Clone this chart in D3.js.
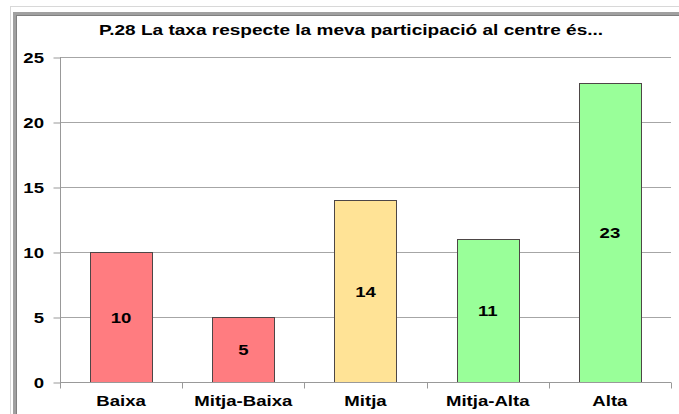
<!DOCTYPE html>
<html><head><meta charset="utf-8">
<script src="https://cdn.jsdelivr.net/npm/d3@7"></script>
<style>body{margin:0;background:#fff}svg{display:block}</style>
</head><body>
<script>
const categories = ["Baixa","Mitja-Baixa","Mitja","Mitja-Alta","Alta"];
const values = [10,5,14,11,23];
const colors = ["#FF7C80","#FF7C80","#FFE396","#99FF99","#99FF99"];
const yTicks = [0,5,10,15,20,25];
const title = "P.28 La taxa respecte la meva participació al centre és...";

const W=679,H=414;
const svg=d3.select("body").append("svg").attr("width",W).attr("height",H);
const font="Arial, 'Liberation Sans', sans-serif";
const SX=1.24;

function txt(g,xp,yp,anchor,s,sx){
  return g.append("text").attr("x",0).attr("y",0)
    .attr("transform",`translate(${xp},${yp}) scale(${sx||SX},1)`)
    .attr("text-anchor",anchor).attr("font-family",font).attr("font-weight","bold")
    .attr("font-size",15).attr("fill","#000").text(s);
}

// frame
svg.append("rect").attr("x",10.5).attr("y",6.5).attr("width",W+20).attr("height",H+20)
  .attr("fill","none").attr("stroke","#d8d8d8").attr("stroke-width",1);
svg.append("rect").attr("x",15).attr("y",14).attr("width",W+20).attr("height",H+20)
  .attr("fill","#fff").attr("stroke","#a0a0a0").attr("stroke-width",4);
svg.append("rect").attr("x",16.5).attr("y",15.5).attr("width",W+20).attr("height",H+20)
  .attr("fill","none").attr("stroke","#808080").attr("stroke-width",1);

const x0=60,x1=671,yTop=57,yBot=382;
const x=d3.scaleBand().domain(categories).range([x0,x1]).paddingInner(0.49).paddingOuter(0.245);
const y=d3.scaleLinear().domain([0,25]).range([yBot,yTop]);

// gridlines
svg.append("g").selectAll("line").data(yTicks.filter(d=>d>0)).join("line")
  .attr("x1",x0).attr("x2",x1).attr("y1",d=>y(d)+0.5).attr("y2",d=>y(d)+0.5)
  .attr("stroke","#a6a6a6").attr("stroke-width",1);

// y axis
const ya=svg.append("g").attr("transform",`translate(${x0+0.5},0)`)
  .call(d3.axisLeft(y).tickValues(yTicks).tickSize(7).tickFormat(""));
ya.select(".domain").attr("stroke","#999").attr("d",`M0,${yTop}V${yBot+0.5}`);
ya.selectAll(".tick line").attr("stroke","#999").attr("transform","translate(0,0.5)");
const yl=svg.append("g");
yTicks.forEach(t=>txt(yl,44,y(t)+5.5,"end",t));

// bars
svg.append("g").selectAll("rect").data(values).join("rect")
  .attr("x",(d,i)=>Math.round(x(categories[i]))+0.5).attr("y",d=>y(d)+0.5)
  .attr("width",Math.round(x.bandwidth())).attr("height",d=>yBot-y(d))
  .attr("fill",(d,i)=>colors[i]).attr("stroke","#4d4646").attr("stroke-width",1);

// x axis
const xa=svg.append("g").attr("transform",`translate(0,${yBot+0.5})`);
xa.append("line").attr("x1",x0).attr("x2",x1).attr("stroke","#999");
const bounds=d3.range(categories.length+1).map(i=>x0+(x1-x0)*i/categories.length);
xa.selectAll(".tk").data(bounds).join("line").attr("class","tk")
  .attr("x1",d=>Math.round(d)+0.5).attr("x2",d=>Math.round(d)+0.5).attr("y1",0).attr("y2",6).attr("stroke","#999");
const xl=svg.append("g");
categories.forEach(c=>txt(xl,x(c)+x.bandwidth()/2,406,"middle",c));

// value labels
const vl=svg.append("g");
values.forEach((v,i)=>txt(vl,x(categories[i])+x.bandwidth()/2,(y(v)+yBot)/2+5.5,"middle",v));

// title
txt(svg,351,35,"middle",title,1.27);
</script>
</body></html>
